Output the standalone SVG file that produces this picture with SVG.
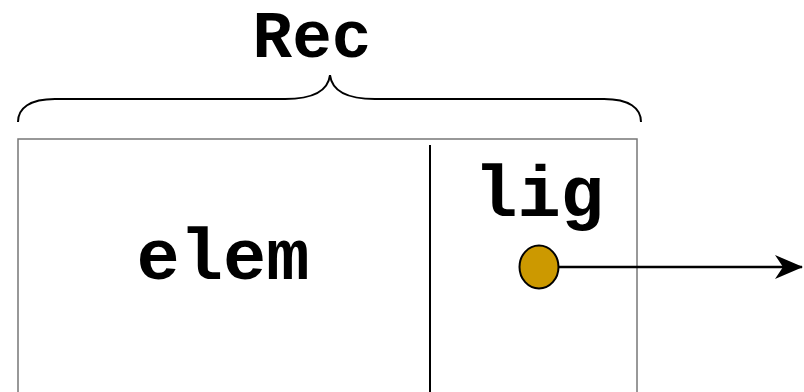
<svg xmlns="http://www.w3.org/2000/svg" width="804" height="392" viewBox="0 0 804 392">
<style>
.t{font-family:"Liberation Mono","Courier New",monospace;font-weight:bold;font-size:72px;fill:#000;text-anchor:middle}
</style>
<defs>
<marker id="ah" markerWidth="28" markerHeight="26" refX="27" refY="13" orient="auto" markerUnits="userSpaceOnUse">
<path d="M0,1 L28,13 L0,25 L8,13 Z" fill="#000"/>
</marker>
</defs>
<rect width="804" height="392" fill="#fff"/>
<g id="brace">
<path d="M18,122 C18,108 30,99 55,99 L285,99 C310,99 328,92 330,75 C332,92 350,99 375,99 L604,99 C629,99 641,108 641,122" fill="none" stroke="#000" stroke-width="2"/>
<text class="t" x="312" y="57" style="font-size:66px">Rec</text>
</g>
<g id="rec">
<rect x="18" y="139" width="619" height="260" fill="#fff" stroke="#777" stroke-width="1.5"/>
<line x1="430" y1="145" x2="430" y2="392" stroke="#000" stroke-width="2"/>
</g>
<g id="elem">
<text class="t" x="223" y="279">elem</text>
</g>
<g id="lig">
<text class="t" x="539" y="216">lig</text>
<ellipse cx="539" cy="267" rx="19.5" ry="21.5" fill="#CC9900" stroke="#000" stroke-width="2"/>
</g>
<g id="connectors">
<line x1="559" y1="267" x2="802" y2="267" stroke="#000" stroke-width="2.5" marker-end="url(#ah)"/>
</g>
</svg>
